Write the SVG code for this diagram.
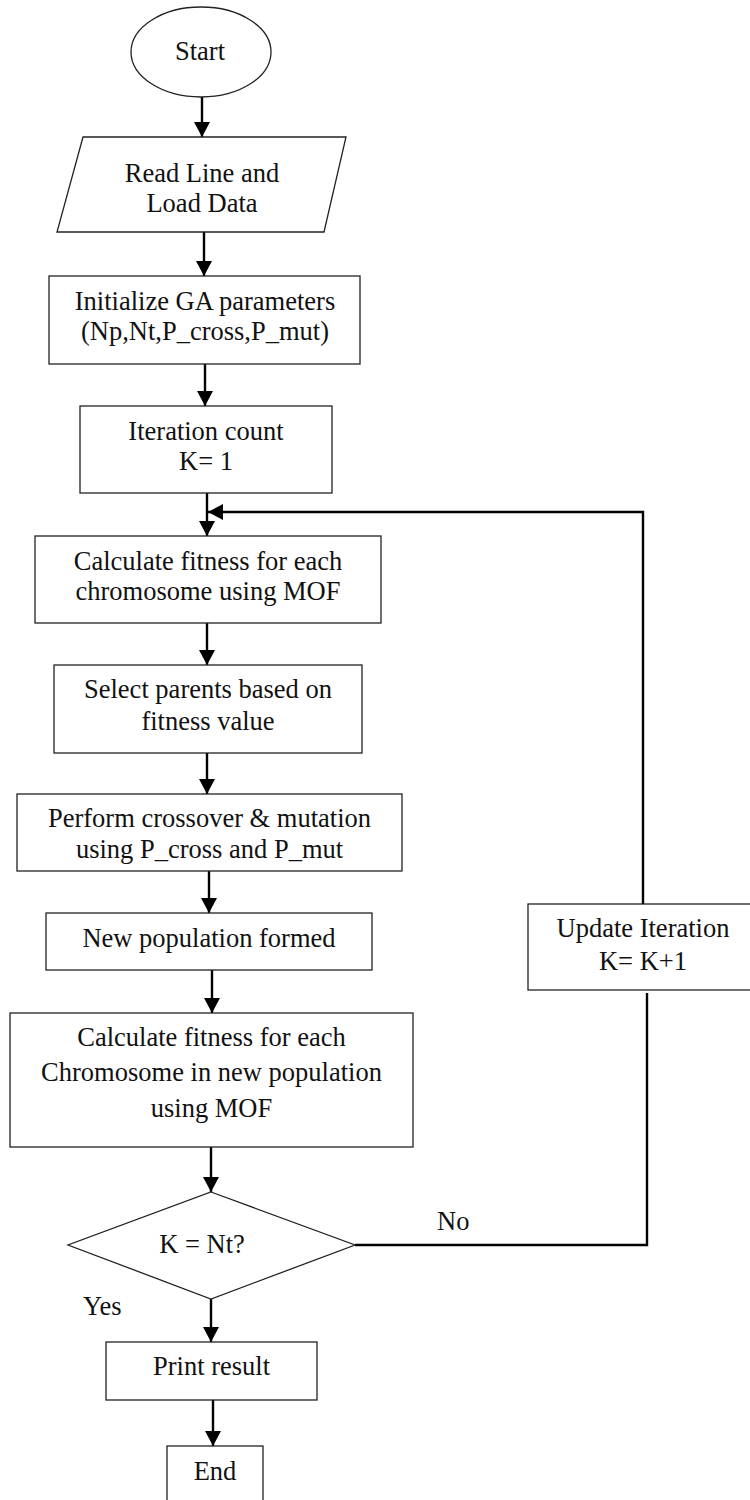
<svg xmlns="http://www.w3.org/2000/svg" width="750" height="1500" viewBox="0 0 750 1500">
  <defs>
    <style>
      .box { fill: #ffffff; stroke: #222222; stroke-width: 1.3; }
      .edge { fill: none; stroke: #000000; stroke-width: 2.4; }
      .lbl { font-family: "Liberation Serif", "Times New Roman", serif; font-size: 26.5px; fill: #111111; text-anchor: middle; }
      .tag { font-family: "Liberation Serif", "Times New Roman", serif; font-size: 26.5px; fill: #111111; }
    </style>
    <marker id="arrow" markerUnits="userSpaceOnUse" markerWidth="16" markerHeight="16" refX="15" refY="8" orient="auto">
      <path d="M0,0 L15,8 L0,16 Z" fill="#000000"/>
    </marker>
  </defs>

  <rect width="750" height="1500" fill="#ffffff"/>

  <!-- connectors -->
  <g id="connectors">
    <line class="edge" x1="202" y1="97" x2="202" y2="137" marker-end="url(#arrow)"/>
    <line class="edge" x1="204" y1="232" x2="204" y2="276" marker-end="url(#arrow)"/>
    <line class="edge" x1="205" y1="364" x2="205" y2="406" marker-end="url(#arrow)"/>
    <line class="edge" x1="207" y1="493" x2="207" y2="536" marker-end="url(#arrow)"/>
    <line class="edge" x1="207" y1="623" x2="207" y2="665" marker-end="url(#arrow)"/>
    <line class="edge" x1="207" y1="753" x2="207" y2="794" marker-end="url(#arrow)"/>
    <line class="edge" x1="209" y1="871" x2="209" y2="913" marker-end="url(#arrow)"/>
    <line class="edge" x1="212" y1="970" x2="212" y2="1013" marker-end="url(#arrow)"/>
    <line class="edge" x1="211" y1="1147" x2="211" y2="1192" marker-end="url(#arrow)"/>
    <line class="edge" x1="211" y1="1299" x2="211" y2="1342" marker-end="url(#arrow)"/>
    <line class="edge" x1="213" y1="1400" x2="213" y2="1446" marker-end="url(#arrow)"/>
    <!-- "No" branch up to the update step -->
    <polyline class="edge" points="355,1245 647,1245 647,993"/>
    <!-- loop back to the fitness step -->
    <polyline class="edge" points="643,904 643,512 208,512" marker-end="url(#arrow)"/>
  </g>

  <g id="start">
    <ellipse class="box" cx="201" cy="52" rx="70" ry="45"/>
    <text class="lbl" x="200" y="60">Start</text>
  </g>

  <g id="read-data">
    <polygon class="box" points="83,137 346,137 324,232 57,232"/>
    <text class="lbl" x="202" y="182">Read Line and</text>
    <text class="lbl" x="202" y="212">Load Data</text>
  </g>

  <g id="init-params">
    <rect class="box" x="49" y="276" width="311" height="88"/>
    <text class="lbl" x="205" y="310">Initialize GA parameters</text>
    <text class="lbl" x="205" y="340">(Np,Nt,P_cross,P_mut)</text>
  </g>

  <g id="iteration-count">
    <rect class="box" x="80" y="406" width="252" height="87"/>
    <text class="lbl" x="206" y="440">Iteration count</text>
    <text class="lbl" x="206" y="470">K= 1</text>
  </g>

  <g id="fitness">
    <rect class="box" x="35" y="536" width="346" height="87"/>
    <text class="lbl" x="208" y="570">Calculate fitness for each</text>
    <text class="lbl" x="208" y="600">chromosome using MOF</text>
  </g>

  <g id="select-parents">
    <rect class="box" x="54" y="665" width="308" height="88"/>
    <text class="lbl" x="208" y="698">Select parents based on</text>
    <text class="lbl" x="208" y="730">fitness value</text>
  </g>

  <g id="crossover">
    <rect class="box" x="17" y="794" width="385" height="77"/>
    <text class="lbl" x="209.5" y="827">Perform crossover &amp; mutation</text>
    <text class="lbl" x="209.5" y="858">using P_cross and P_mut</text>
  </g>

  <g id="new-population">
    <rect class="box" x="46" y="913" width="326" height="57"/>
    <text class="lbl" x="209" y="947">New population formed</text>
  </g>

  <g id="fitness-new">
    <rect class="box" x="10" y="1013" width="403" height="134"/>
    <text class="lbl" x="211.5" y="1046">Calculate fitness for each</text>
    <text class="lbl" x="211.5" y="1081">Chromosome in new population</text>
    <text class="lbl" x="211.5" y="1117">using MOF</text>
  </g>

  <g id="check">
    <polygon class="box" points="211,1192 355,1245 211,1299 68,1245"/>
    <text class="lbl" x="202" y="1253">K = Nt?</text>
    <text class="tag" x="83" y="1315">Yes</text>
    <text class="tag" x="437" y="1230">No</text>
  </g>

  <g id="update-iteration">
    <rect class="box" x="528" y="904" width="230" height="86"/>
    <text class="lbl" x="643" y="937">Update Iteration</text>
    <text class="lbl" x="643" y="970">K= K+1</text>
  </g>

  <g id="print-result">
    <rect class="box" x="106" y="1342" width="211" height="58"/>
    <text class="lbl" x="211.5" y="1375">Print result</text>
  </g>

  <g id="end">
    <rect class="box" x="167" y="1446" width="96" height="80"/>
    <text class="lbl" x="215" y="1480">End</text>
  </g>
</svg>
